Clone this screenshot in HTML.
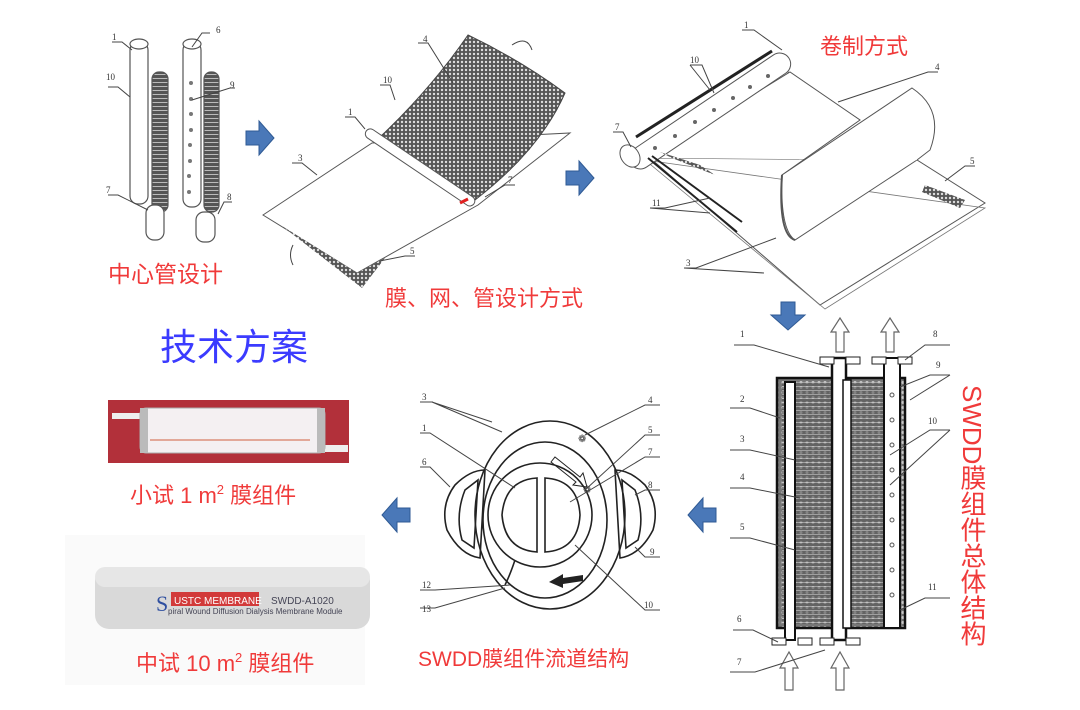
<!DOCTYPE html>
<html><head><meta charset="utf-8"><style>
html,body{margin:0;padding:0;background:#fff;width:1080px;height:710px;overflow:hidden}
svg{display:block}
.r{fill:#f03a3a;font-family:"Liberation Sans","Noto Sans CJK SC",sans-serif}
.n{fill:#333;font-family:"Liberation Serif",serif;font-size:9px}
.l{stroke:#444;stroke-width:1;fill:none}
</style></head><body>
<svg width="1080" height="710" viewBox="0 0 1080 710" xmlns="http://www.w3.org/2000/svg">
<defs>
<pattern id="m" width="4" height="4" patternUnits="userSpaceOnUse"><rect width="4" height="4" fill="#555"/><circle cx="2" cy="2" r="1.2" fill="#ddd"/></pattern>
<pattern id="h" width="4" height="4" patternUnits="userSpaceOnUse"><rect width="4" height="4" fill="#555"/><rect y="2" width="4" height="1" fill="#bbb"/></pattern>
<pattern id="v" width="6" height="5" patternUnits="userSpaceOnUse"><rect width="6" height="5" fill="#777"/><circle cx="3" cy="2.5" r="1.5" fill="#ccc"/></pattern>
<g id="ra"><polygon points="0,-7 13,-7 13,-17 28,0 13,17 13,7 0,7" fill="#4a78b8" stroke="#2f5a94"/></g>
</defs>

<!-- Panel 1: center tubes -->
<g stroke="#555" fill="#fff" stroke-width="1.2">
<rect x="130" y="42" width="18" height="162" rx="8"/>
<ellipse cx="139" cy="44" rx="9" ry="5"/>
<rect x="152" y="72" width="16" height="140" rx="7" fill="url(#h)"/>
<rect x="146" y="205" width="18" height="35" rx="8"/>
<rect x="183" y="42" width="18" height="165" rx="8"/>
<ellipse cx="192" cy="44" rx="9" ry="5"/>
<rect x="204" y="72" width="15" height="140" rx="7" fill="url(#h)"/>
<rect x="196" y="212" width="19" height="30" rx="8"/>
</g>
<g fill="#777"><circle cx="191" cy="83" r="2"/><circle cx="191" cy="99" r="2"/><circle cx="191" cy="114" r="2"/><circle cx="191" cy="130" r="2"/><circle cx="190" cy="145" r="2"/><circle cx="190" cy="161" r="2"/><circle cx="189" cy="176" r="2"/><circle cx="189" cy="192" r="2"/></g>
<g class="l" stroke-width=".7"><path d="M112 42h10l10 8M108 87h10l12 10M108 195h10l30 15M210 33h-8l-10 14M235 88h-5l-38 12M232 202h-8l-6 12"/></g>
<text class="n" x="112" y="40">1</text><text class="n" x="106" y="80">10</text><text class="n" x="106" y="193">7</text><text class="n" x="216" y="33">6</text><text class="n" x="230" y="88">9</text><text class="n" x="227" y="200">8</text>
<text class="r" x="108" y="282" font-size="23">中心管设计</text>

<use href="#ra" x="246" y="138"/>

<!-- Panel 2 -->
<polygon points="263,215 372,143 570,133 478,205 357,273" fill="#fff" stroke="#555" stroke-width="1"/>
<polygon points="282,226 357,273 385,258 362,288" fill="url(#m)"/>
<path d="M380 137 Q430 90 468 35 Q520 60 565 93 Q540 150 475 200 Z" fill="url(#m)" stroke="#444"/>
<rect x="365" y="130" width="130" height="10" rx="5" transform="rotate(34 372 135)" fill="#fff" stroke="#555"/>
<path d="M460 203 l8 -4" stroke="#e02020" stroke-width="3"/>
<g class="l" stroke-width=".7"><path d="M418 43h10l25 40M380 85h10l5 15M345 117h10l10 12M292 163h10l15 12M515 185h-10l-20 12M415 256h-10l-25 5"/><path d="M512 45 q15 -10 20 5" /><path d="M293 245 q-5 10 0 20"/></g>
<text class="n" x="423" y="42">4</text><text class="n" x="383" y="83">10</text><text class="n" x="348" y="115">1</text><text class="n" x="298" y="161">3</text><text class="n" x="508" y="183">7</text><text class="n" x="410" y="254">5</text>
<text class="r" x="385" y="306" font-size="22">膜、网、管设计方式</text>

<use href="#ra" x="566" y="178"/>

<!-- Panel 3 -->
<polygon points="650,158 917,160 985,203 820,305" fill="#fff" stroke="#555"/>
<polygon points="645,160 985,208 825,309" fill="none" stroke="#777" stroke-width=".8"/>
<path d="M785 70 L860 120 M640 160 L785 70" stroke="#666" fill="none"/>
<path d="M650 158 L790 72 L860 120 L782 175 Q780 230 795 240 L917 160" fill="#fff" stroke="#555"/>
<path d="M782 175 L912 88 Q945 110 930 150 L917 160" fill="#fff" stroke="#555"/>
<path d="M782 175 Q778 235 795 240" fill="none" stroke="#555" stroke-width="2"/>
<rect x="615" y="100" width="190" height="22" rx="11" transform="rotate(-34 710 111)" fill="#fff" stroke="#555"/>
<ellipse cx="630" cy="156" rx="9" ry="12" transform="rotate(-34 630 156)" fill="#fff" stroke="#555"/>
<path d="M636 137 L772 51" stroke="#222" stroke-width="3"/>
<path d="M648 158 L737 232 M652 156 L742 222" stroke="#222" stroke-width="2"/>
<polygon points="660,152 700,165 715,175 672,158" fill="url(#m)"/>
<polygon points="925,185 965,200 960,208 922,192" fill="url(#m)"/>
<g fill="#666"><circle cx="655" cy="148" r="2"/><circle cx="675" cy="136" r="2"/><circle cx="695" cy="122" r="2"/><circle cx="714" cy="110" r="2"/><circle cx="733" cy="98" r="2"/><circle cx="750" cy="87" r="2"/><circle cx="768" cy="76" r="2"/></g>
<g class="l" stroke-width=".7"><path d="M742 30h12l28 20M690 65h12l12 28M690 65l20 25M613 132h10l8 15M650 208h15l45 -10M650 208l60 5M684 268h12l80 -30M684 268l80 5M938 72h-10l-90 30M975 166h-10l-20 15"/></g>
<text class="n" x="744" y="28">1</text><text class="n" x="690" y="63">10</text><text class="n" x="615" y="130">7</text><text class="n" x="652" y="206">11</text><text class="n" x="686" y="266">3</text><text class="n" x="935" y="70">4</text><text class="n" x="970" y="164">5</text>
<text class="r" x="820" y="54" font-size="22">卷制方式</text>

<g transform="translate(788 302) rotate(90)"><use href="#ra" x="0" y="0"/></g>

<text x="160" y="360" font-size="37" fill="#3b3bff" font-family="Liberation Sans,'Noto Sans CJK SC',sans-serif">技术方案</text>

<!-- Module structure -->
<g stroke="#111" stroke-width="2.5" fill="none">
<rect x="777" y="378" width="128" height="250" fill="url(#v)"/>
</g>
<rect x="782" y="382" width="118" height="242" fill="url(#h)" opacity=".6"/>
<rect x="785" y="382" width="10" height="258" fill="#fff" stroke="#111" stroke-width="2"/>
<rect x="832" y="358" width="14" height="282" fill="#fff" stroke="#111" stroke-width="2.5"/>
<rect x="843" y="380" width="8" height="248" fill="#fff" stroke="#111" stroke-width="1.5"/>
<rect x="884" y="358" width="16" height="270" fill="#fff" stroke="#111" stroke-width="2"/>
<g fill="#fff" stroke="#222"><rect x="820" y="357" width="14" height="7"/><rect x="846" y="357" width="14" height="7"/><rect x="872" y="357" width="14" height="7"/><rect x="898" y="357" width="14" height="7"/><rect x="772" y="638" width="14" height="7"/><rect x="798" y="638" width="14" height="7"/><rect x="820" y="638" width="14" height="7"/><rect x="846" y="638" width="14" height="7"/></g>
<g fill="#fff" stroke="#555"><circle cx="892" cy="395" r="2"/><circle cx="892" cy="420" r="2"/><circle cx="892" cy="445" r="2"/><circle cx="892" cy="470" r="2"/><circle cx="892" cy="495" r="2"/><circle cx="892" cy="520" r="2"/><circle cx="892" cy="545" r="2"/><circle cx="892" cy="570" r="2"/><circle cx="892" cy="595" r="2"/></g>
<g fill="#fff" stroke="#666" stroke-width="1.2">
<polygon points="836,352 836,332 831,332 840,318 849,332 844,332 844,352"/>
<polygon points="886,352 886,332 881,332 890,318 899,332 894,332 894,352"/>
<polygon points="785,690 785,668 780,668 789,652 798,668 793,668 793,690"/>
<polygon points="836,690 836,668 831,668 840,652 849,668 844,668 844,690"/>
</g>
<g class="l" stroke-width=".7"><path d="M734 345h20l75 22M730 408h20l30 10M730 450h20l45 10M730 488h20l50 10M730 538h20l45 12M733 630h20l25 12M730 672h25l70 -22M950 345h-25l-20 15M950 375h-20l-30 12M950 375l-40 25M950 430h-20l-40 25M950 430l-60 55M950 598h-25l-25 12"/></g>
<text class="n" x="740" y="337" font-size="13">1</text><text class="n" x="740" y="402" font-size="13">2</text><text class="n" x="740" y="442" font-size="13">3</text><text class="n" x="740" y="480" font-size="13">4</text><text class="n" x="740" y="530" font-size="13">5</text><text class="n" x="737" y="622" font-size="13">6</text><text class="n" x="737" y="665" font-size="13">7</text><text class="n" x="933" y="337" font-size="13">8</text><text class="n" x="936" y="368" font-size="13">9</text><text class="n" x="928" y="424" font-size="13">10</text><text class="n" x="928" y="590" font-size="13">11</text>
<text class="r" font-size="26" style="writing-mode:vertical-rl" x="972" y="385">SWDD膜组件总体结构</text>

<g transform="translate(716 515) rotate(180)"><use href="#ra"/></g>

<!-- cross section -->
<g fill="none" stroke="#222" stroke-width="1.6">
<path d="M455 485 Q470 470 485 470 L480 558 Q460 555 447 530 Q440 505 455 485Z"/>
<path d="M465 490 L478 480 L474 548 L462 540 Q455 515 465 490Z"/>
<path d="M645 485 Q630 470 615 470 L620 558 Q640 555 653 530 Q660 505 645 485Z"/>
<path d="M635 490 L622 480 L626 548 L638 540 Q645 515 635 490Z"/>
<ellipse cx="550" cy="515" rx="75" ry="94"/>
<ellipse cx="545" cy="520" rx="62" ry="78"/>
<circle cx="540" cy="515" r="52"/>
<path d="M537 478 L537 552 Q505 550 502 515 Q505 480 537 478Z"/>
<path d="M545 478 L545 552 Q578 550 580 515 Q578 480 545 478Z"/>
<path d="M555 457 l25 20 l3 -4 l4 14 l-14 -2 l3 -3 l-25 -20z" stroke-width="1"/>
<path d="M505 585 q5 -10 10 -25" />
</g>
<path d="M583 575 l-20 3 l0 -4 l-14 8 l14 6 l0 -4 l20 -3z" fill="#222"/>
<text x="578" y="442" font-size="10" fill="#333">❁</text><text x="583" y="493" font-size="10" fill="#333">❁</text>
<g class="l" stroke-width=".7"><path d="M420 402h12l60 20M432 402l70 30M420 433h10l85 55M420 467h10l20 20M420 590h15l75 -5M420 608h15l70 -20M660 405h-15l-60 30M660 435h-15l-60 55M660 457h-15l-75 45M660 490h-15l-10 5M660 557h-15l-10 -10M660 610h-15l-70 -65"/></g>
<text class="n" x="422" y="400" font-size="11">3</text><text class="n" x="422" y="431" font-size="11">1</text><text class="n" x="422" y="465" font-size="11">6</text><text class="n" x="422" y="588" font-size="11">12</text><text class="n" x="422" y="612" font-size="11">13</text><text class="n" x="648" y="403" font-size="11">4</text><text class="n" x="648" y="433" font-size="11">5</text><text class="n" x="648" y="455" font-size="11">7</text><text class="n" x="648" y="488" font-size="11">8</text><text class="n" x="650" y="555" font-size="11">9</text><text class="n" x="644" y="608" font-size="11">10</text>
<text class="r" x="418" y="666" font-size="21">SWDD膜组件流道结构</text>

<g transform="translate(410 515) rotate(180)"><use href="#ra"/></g>

<!-- photos -->
<rect x="108" y="400" width="241" height="63" fill="#b2303a"/>
<rect x="112" y="413" width="30" height="6" fill="#eee"/>
<rect x="320" y="445" width="28" height="7" fill="#eee"/>
<rect x="140" y="408" width="185" height="45" rx="6" fill="#f4f0f2" stroke="#aaa"/>
<rect x="140" y="408" width="8" height="45" fill="#bbb"/><rect x="317" y="408" width="8" height="45" fill="#bbb"/>
<line x1="150" y1="440" x2="310" y2="440" stroke="#d06040" stroke-width="1"/>
<text class="r" x="130" y="503" font-size="22">小试 1 m<tspan font-size="13" dy="-9">2</tspan><tspan dy="9"> 膜组件</tspan></text>

<rect x="65" y="535" width="300" height="150" fill="#fafafa"/>
<rect x="95" y="567" width="275" height="62" rx="14" fill="#d9d9d9"/>
<rect x="95" y="567" width="275" height="20" rx="10" fill="#e6e6e6"/>
<rect x="171" y="592" width="88" height="14" fill="#d23a3a"/>
<text x="174" y="604" font-size="10" fill="#fff" font-family="Liberation Sans,sans-serif">USTC MEMBRANE</text>
<text x="271" y="604" font-size="10" fill="#445" font-family="Liberation Sans,sans-serif">SWDD-A1020</text>
<text x="156" y="611" font-size="22" fill="#3050a0" font-family="Liberation Serif,serif">S</text>
<text x="168" y="614" font-size="8" fill="#445" font-family="Liberation Sans,sans-serif">piral Wound Diffusion Dialysis Membrane Module</text>
<text class="r" x="136" y="671" font-size="22">中试 10 m<tspan font-size="13" dy="-9">2</tspan><tspan dy="9"> 膜组件</tspan></text>
</svg>
</body></html>
